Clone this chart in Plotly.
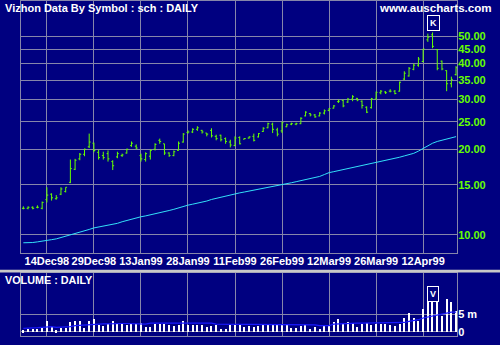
import math
import plotly.graph_objects as go

# ---------------- data ----------------
date_labels = ["14Dec98", "29Dec98", "13Jan99", "28Jan99", "11Feb99",
               "26Feb99", "12Mar99", "26Mar99", "12Apr99"]
date_bars = [5, 15, 25, 35, 45, 55, 65, 75, 85]

opens = [12.4, 12.4, 12.5, 12.5, 12.4, 13.3, 13.9, 13.4, 13.9, 14.2,
         15.3, 17.0, 18.5, 19.2, 20.4, 21.0, 19.5, 19.0, 19.3, 18.1,
         18.8, 19.0, 19.4, 20.6, 20.5, 19.0, 18.4, 18.9, 20.0, 21.5,
         20.9, 19.4, 19.0, 19.8, 21.2, 22.9, 23.0, 23.5, 23.3, 22.8,
         23.3, 22.2, 22.4, 21.8, 21.2, 20.6, 22.0, 21.7, 21.9, 22.2,
         22.1, 23.1, 23.8, 24.5, 23.4, 23.2, 24.0, 24.5, 24.5, 24.6,
         26.2, 26.7, 26.4, 26.2, 26.8, 27.4, 27.9, 29.4, 29.7, 29.3,
         30.0, 30.2, 29.5, 28.1, 28.0, 30.0, 31.6, 31.8, 32.0, 32.0,
         32.0, 35.3, 36.2, 38.2, 39.5, 40.7, 48.5, 50.5, 44.8, 40.8,
         37.8, 34.0, 36.6]
highs = [12.6, 12.6, 12.6, 12.7, 13.1, 14.7, 14.0, 13.8, 14.7, 14.7,
         18.4, 18.5, 19.4, 20.1, 22.7, 21.1, 19.9, 19.6, 19.8, 18.3,
         19.6, 19.3, 20.1, 21.3, 20.8, 19.3, 19.5, 20.0, 21.0, 21.8,
         20.9, 19.5, 19.8, 21.3, 22.8, 23.3, 23.7, 24.1, 23.4, 22.8,
         23.7, 22.5, 22.5, 22.0, 21.6, 22.2, 22.2, 21.9, 22.2, 22.7,
         22.8, 23.9, 24.8, 24.8, 23.8, 25.0, 24.6, 24.8, 24.8, 25.9,
         27.2, 26.8, 26.6, 27.0, 27.6, 27.9, 28.6, 29.9, 29.9, 30.3,
         31.0, 30.3, 29.7, 28.3, 30.3, 31.9, 32.3, 32.0, 32.5, 32.3,
         34.6, 37.6, 38.9, 40.0, 42.2, 45.1, 51.0, 51.5, 45.0, 41.0,
         37.9, 36.0, 39.2]
lows = [12.3, 12.3, 12.3, 12.4, 12.3, 13.0, 13.2, 13.3, 13.8, 14.1,
        15.2, 16.9, 18.3, 18.9, 20.2, 19.5, 18.4, 18.4, 18.1, 16.9,
        18.6, 18.8, 19.3, 20.4, 20.0, 18.1, 18.1, 18.4, 19.8, 20.9,
        19.1, 18.8, 18.9, 19.8, 21.1, 22.7, 22.8, 23.2, 22.7, 22.2,
        22.0, 21.5, 21.3, 20.9, 20.3, 20.5, 20.8, 21.7, 21.8, 21.3,
        22.0, 23.0, 23.7, 22.8, 22.2, 22.8, 23.9, 24.3, 24.3, 24.5,
        26.1, 26.1, 25.8, 26.1, 26.5, 27.2, 27.8, 29.1, 28.1, 29.1,
        29.5, 29.5, 27.8, 26.8, 27.8, 29.9, 31.2, 31.3, 31.7, 31.2,
        31.9, 35.0, 36.0, 37.9, 39.0, 40.4, 47.7, 45.3, 37.9, 37.9,
        32.0, 33.0, 36.3]
closes = [12.4, 12.5, 12.4, 12.5, 13.0, 13.8, 13.5, 13.5, 14.5, 14.7,
          17.1, 18.3, 19.2, 20.0, 21.2, 19.8, 18.7, 18.7, 18.5, 17.5,
          19.3, 19.1, 20.0, 21.0, 20.2, 18.5, 19.3, 19.8, 20.8, 21.3,
          19.4, 19.0, 19.6, 21.0, 22.6, 23.0, 23.5, 23.8, 23.0, 22.6,
          22.3, 21.8, 21.6, 21.3, 20.7, 21.9, 20.9, 21.8, 22.1, 21.5,
          22.7, 23.7, 24.6, 23.5, 22.6, 24.8, 24.4, 24.6, 24.6, 25.7,
          27.0, 26.4, 26.0, 26.8, 27.3, 27.8, 28.4, 29.5, 28.4, 30.0,
          30.6, 29.8, 28.5, 27.0, 30.1, 31.7, 32.0, 31.6, 32.0, 31.4,
          34.4, 37.0, 38.5, 39.5, 41.5, 45.0, 49.5, 46.0, 38.5, 38.3,
          34.0, 35.2, 38.7]
price_ma = [9.38, 9.38, 9.40, 9.45, 9.52, 9.60, 9.62, 9.68, 9.78, 9.88,
            9.98, 10.08, 10.18, 10.30, 10.45, 10.58, 10.65, 10.72, 10.80, 10.86,
            10.98, 11.12, 11.25, 11.38, 11.50, 11.58, 11.66, 11.75, 11.85, 11.98,
            12.08, 12.18, 12.30, 12.45, 12.62, 12.72, 12.82, 12.92, 13.02, 13.15,
            13.32, 13.45, 13.56, 13.70, 13.85, 13.95, 14.05, 14.15, 14.25, 14.35,
            14.45, 14.55, 14.66, 14.78, 14.92, 15.05, 15.15, 15.25, 15.38, 15.50,
            15.62, 15.75, 15.88, 16.05, 16.30, 16.55, 16.68, 16.82, 16.95, 17.10,
            17.25, 17.40, 17.55, 17.68, 17.80, 17.95, 18.10, 18.22, 18.35, 18.55,
            18.75, 18.95, 19.10, 19.35, 19.70, 20.15, 20.60, 21.00, 21.30, 21.50,
            21.70, 21.90, 22.15]
volume_m = [0.55, 0.85, 0.85, 0.85, 1.6, 3.3, 1.5, 0.55, 1.1, 1.2,
            2.9, 3.1, 3.1, 1.1, 3.1, 3.9, 2.0, 1.7, 2.5, 3.1,
            2.4, 2.4, 2.0, 2.4, 2.4, 2.7, 1.4, 1.4, 2.4, 2.4,
            2.4, 2.0, 1.7, 2.0, 3.1, 2.1, 2.0, 2.0, 2.0, 1.4,
            1.7, 2.0, 1.0, 1.0, 2.0, 2.0, 2.0, 1.5, 1.7, 1.5,
            1.7, 2.0, 2.3, 2.0, 2.0, 2.0, 2.0, 1.3, 1.3, 1.7,
            2.0, 1.0, 1.5, 1.0, 1.7, 2.0, 3.0, 3.7, 2.3, 3.0,
            2.7, 1.5, 2.3, 2.7, 2.0, 2.3, 2.3, 2.3, 2.0, 1.7,
            2.3, 4.0, 5.5, 4.0, 3.3, 6.7, 10.5, 11.5, 9.5, 4.7,
            9.7, 8.7, 6.0]
volume_ma = [1.0, 1.0, 1.1, 1.2, 1.3, 1.4, 1.5, 1.3, 1.3, 1.4,
             1.5, 1.8, 1.9, 2.0, 2.2, 2.2, 2.3, 2.3, 2.3, 2.4,
             2.4, 2.4, 2.4, 2.3, 2.3, 2.2, 2.2, 2.5, 2.5, 2.5,
             2.5, 2.5, 2.5, 2.5, 2.5, 2.5, 2.5, 2.5, 2.5, 2.5,
             2.5, 2.2, 2.2, 2.2, 2.1, 2.1, 2.1, 2.0, 2.0, 2.0,
             2.0, 2.0, 2.0, 2.0, 2.0, 2.0, 2.0, 2.0, 2.0, 2.0,
             2.0, 2.0, 2.0, 1.8, 1.8, 1.8, 2.2, 2.3, 2.4, 2.5,
             2.5, 2.5, 2.5, 2.5, 2.5, 2.5, 2.5, 2.5, 2.5, 2.5,
             2.5, 2.7, 3.0, 3.2, 3.5, 4.0, 4.3, 4.7, 5.0, 5.2,
             5.5, 5.7, 5.7]
price_ticks = [10, 15, 20, 25, 30, 35, 40, 45, 50]
price_tick_text = ["10.00", "15.00", "20.00", "25.00", "30.00", "35.00", "40.00", "45.00", "50.00"]
vol_ticks = [0, 5]
vol_tick_text = ["0", "5 m"]

bars = list(range(len(opens)))

# ---------------- style ----------------
NAVY = "#000080"
GRID = "#8686aa"
GREEN = "#66ff00"
CYAN = "#33e0f8"
FONT = "Liberation Sans"
W, H = 500, 345

fig = go.Figure()
fig.add_trace(go.Ohlc(
    x=bars, open=opens, high=highs, low=lows, close=closes,
    increasing=dict(line=dict(color=GREEN, width=1)),
    decreasing=dict(line=dict(color=GREEN, width=1)),
    tickwidth=0.3, xaxis="x", yaxis="y", hoverinfo="skip"))
fig.add_trace(go.Scatter(
    x=bars, y=price_ma, mode="lines", line=dict(color=CYAN, width=1),
    xaxis="x", yaxis="y", hoverinfo="skip"))

fig.add_trace(go.Bar(
    x=bars, y=volume_m, width=0.24, marker=dict(color="white", line=dict(width=0)),
    xaxis="x2", yaxis="y2", hoverinfo="skip"))
fig.add_trace(go.Scatter(
    x=bars, y=volume_ma, mode="lines", line=dict(color="#1a1aff", width=1.2),
    xaxis="x2", yaxis="y2", hoverinfo="skip"))

xdom = [21 / W, 457 / W]
xrange_ = [-0.5, 92.2]
bold_white = dict(family=FONT, size=11, color="white", weight="bold")

fig.update_layout(
    width=W, height=H, margin=dict(l=0, r=0, t=0, b=0),
    paper_bgcolor=NAVY, plot_bgcolor=NAVY, showlegend=False,
    xaxis=dict(domain=xdom, range=xrange_, anchor="y",
               tickmode="array", tickvals=date_bars, ticktext=date_labels,
               showgrid=True, gridcolor=GRID, gridwidth=1, zeroline=False,
               showline=True, linecolor=GRID, linewidth=1, mirror=True,
               ticks="", tickfont=bold_white, ticklabelstandoff=-2,
               rangeslider=dict(visible=False), fixedrange=True),
    yaxis=dict(domain=[(H - 254) / H, 1.0], anchor="x", type="log",
               range=[math.log10(8.65), math.log10(66.4)], side="right",
               tickmode="array", tickvals=price_ticks, ticktext=price_tick_text,
               showgrid=True, gridcolor=GRID, gridwidth=1, zeroline=False,
               showline=True, linecolor=GRID, linewidth=1, mirror=True,
               ticks="", ticklabelstandoff=-2,
               tickfont=dict(family=FONT, size=11, color=GREEN, weight="bold")),
    xaxis2=dict(domain=xdom, range=xrange_, anchor="y2",
                tickmode="array", tickvals=date_bars, showticklabels=False,
                showgrid=True, gridcolor=GRID, gridwidth=1, zeroline=False,
                showline=True, linecolor=GRID, linewidth=1, mirror=True, ticks=""),
    yaxis2=dict(domain=[(H - 338) / H, (H - 274) / H], anchor="x2",
                range=[-1.24, 17.15], side="right",
                tickmode="array", tickvals=vol_ticks, ticktext=vol_tick_text,
                showgrid=True, gridcolor=GRID, gridwidth=1, zeroline=False,
                showline=True, linecolor=GRID, linewidth=1, mirror=True,
                ticks="", ticklabelstandoff=-2, tickfont=bold_white),
    bargap=0,
    shapes=[dict(type="rect", xref="paper", yref="paper",
                 x0=0, x1=1, y0=(H - 274) / H, y1=(H - 271) / H,
                 fillcolor="#c8c8c8", line=dict(width=0), layer="above")],
    annotations=[
        dict(text="Vizhon Data By Symbol : sch : DAILY", xref="paper", yref="paper",
             x=3 / W, y=(H - 7) / H, xanchor="left", yanchor="middle",
             showarrow=False, font=bold_white),
        dict(text="www.auscharts.com", xref="paper", yref="paper",
             x=494 / W, y=(H - 7) / H, xanchor="right", yanchor="middle",
             showarrow=False, font=dict(family=FONT, size=11.6, color="white", weight="bold")),
        dict(text="VOLUME : DAILY", xref="paper", yref="paper",
             x=3 / W, y=(H - 281) / H, xanchor="left", yanchor="middle",
             showarrow=False, font=dict(family=FONT, size=10.8, color="white", weight="bold")),
        dict(text="K", xref="paper", yref="paper",
             x=433.5 / W, y=(H - 22) / H, xanchor="center", yanchor="middle",
             showarrow=False, bgcolor=NAVY, bordercolor="white", borderwidth=1, borderpad=2,
             font=dict(family=FONT, size=9, color="white", weight="bold")),
        dict(text="V", xref="paper", yref="paper",
             x=433 / W, y=(H - 296) / H, xanchor="center", yanchor="middle",
             showarrow=False, bgcolor=NAVY, bordercolor="white", borderwidth=1, borderpad=2,
             font=dict(family=FONT, size=9, color="white", weight="bold")),
    ],
)

fig.write_html("out.html")
